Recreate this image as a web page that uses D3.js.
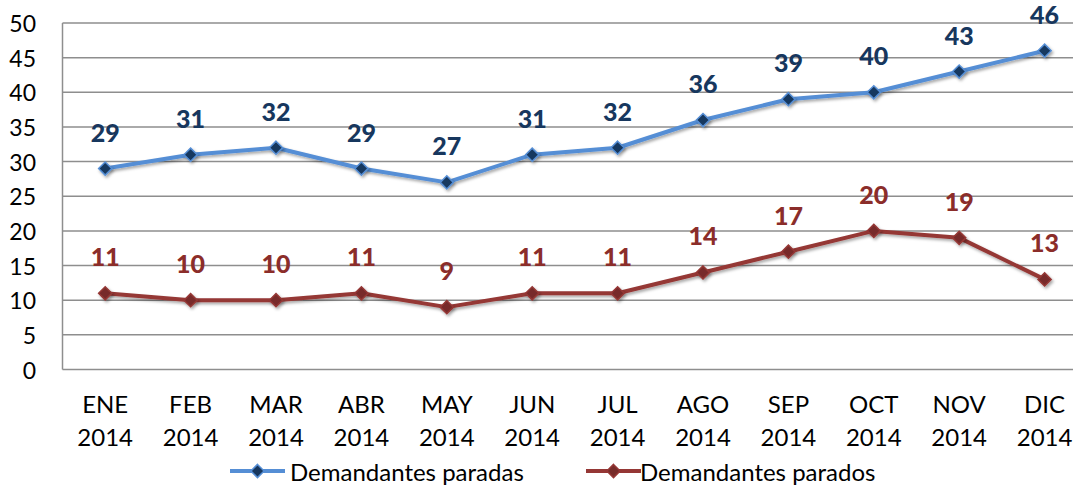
<!DOCTYPE html>
<html><head><meta charset="utf-8">
<script src="https://cdn.jsdelivr.net/npm/d3@7"></script>
<style>body{margin:0;background:#fff}svg{display:block}</style>
</head><body>
<svg id="c" width="1073" height="486"></svg>
<script>
const months = ["ENE","FEB","MAR","ABR","MAY","JUN","JUL","AGO","SEP","OCT","NOV","DIC"];
const year = "2014";
const paradas = [29,31,32,29,27,31,32,36,39,40,43,46];
const parados = [11,10,10,11,9,11,11,14,17,20,19,13];
const yTicks = [0,5,10,15,20,25,30,35,40,45,50];
const seriesNames = ["Demandantes paradas","Demandantes parados"];

const W = 1073, H = 486;
const mLeft = 62.5, mTop = 23, mBottom = 369.5, plotRight = 1087.3;
const font = "Lato, 'Open Sans', sans-serif";
const svg = d3.select("#c");

const defs = svg.append("defs");
const f = defs.append("filter").attr("id","sh").attr("x","-50%").attr("y","-50%").attr("width","200%").attr("height","200%");
f.append("feDropShadow").attr("dx",1.5).attr("dy",2).attr("stdDeviation",1.5).attr("flood-color","#000").attr("flood-opacity",0.35);

const x = d3.scaleBand().domain(months).range([mLeft, plotRight]);
const y = d3.scaleLinear().domain([0,50]).range([mBottom, mTop]);
const cx = m => x(m) + x.bandwidth()/2;

// gridlines
svg.append("g").selectAll("line").data(yTicks).join("line")
  .attr("x1", mLeft).attr("x2", W).attr("y1", d=>y(d)).attr("y2", d=>y(d))
  .attr("stroke", "#8e8e8e").attr("stroke-width", 1.5);
// y axis line
svg.append("line").attr("x1",mLeft).attr("x2",mLeft).attr("y1",y(50)).attr("y2",y(0))
  .attr("stroke","#8e8e8e").attr("stroke-width",1.5);

// y labels
svg.append("g").selectAll("text").data(yTicks).join("text")
  .attr("x", 36).attr("y", d=>y(d)).attr("text-anchor","end").attr("dominant-baseline","central")
  .attr("font-family",font).attr("font-size",23).attr("fill","#000").text(d=>d);

// x labels
const xl = svg.append("g").selectAll("text").data(months).join("text")
  .attr("x", d=>cx(d)).attr("text-anchor","middle")
  .attr("font-family",font).attr("font-size",24).attr("fill","#000");
xl.append("tspan").attr("x", d=>cx(d)).attr("y", 413).text(d=>d);
xl.append("tspan").attr("x", d=>cx(d)).attr("y", 446).text(year);

const series = [
  {vals: paradas, line:"#558ED5", mfill:"#17375E", mstroke:"#558ED5", label:"#17375E"},
  {vals: parados, line:"#953735", mfill:"#772C2A", mstroke:"#953735", label:"#8B2D2A"}
];
const diamond = d3.symbol().type(d3.symbolDiamond2).size(110);

series.forEach(s => {
  const pts = months.map((m,i)=>[cx(m), y(s.vals[i])]);
  svg.append("path").attr("d", d3.line()(pts)).attr("fill","none")
    .attr("stroke", s.line).attr("stroke-width", 4).attr("stroke-linejoin","round")
    .attr("filter","url(#sh)");
  svg.append("g").selectAll("path").data(pts).join("path")
    .attr("d", diamond).attr("transform", d=>`translate(${d[0]},${d[1]})`)
    .attr("fill", s.mfill).attr("stroke", s.mstroke).attr("stroke-width",1.5)
    .attr("filter","url(#sh)");
  svg.append("g").selectAll("text").data(months).join("text")
    .attr("x", m=>cx(m)).attr("y", (m,i)=>y(s.vals[i]) - 37)
    .attr("text-anchor","middle").attr("dominant-baseline","central")
    .attr("font-family",font).attr("font-weight",900).attr("font-size",25)
    .attr("fill", s.label).text((m,i)=>s.vals[i]);
});

// legend
const legY = 471;
const leg = [
  {x1:230, x2:285, tx:290, s:series[0], name:seriesNames[0]},
  {x1:586, x2:641, tx:640, s:series[1], name:seriesNames[1]}
];
leg.forEach(l => {
  svg.append("line").attr("x1",l.x1).attr("x2",l.x2).attr("y1",legY).attr("y2",legY)
    .attr("stroke",l.s.line).attr("stroke-width",4);
  svg.append("path").attr("d",diamond).attr("transform",`translate(${(l.x1+l.x2)/2},${legY})`)
    .attr("fill",l.s.mfill).attr("stroke",l.s.mstroke).attr("stroke-width",1.5);
  svg.append("text").attr("x",l.tx).attr("y",legY).attr("dominant-baseline","central")
    .attr("font-family",font).attr("font-size",24).attr("fill","#000").text(l.name);
});
</script>
</body></html>
